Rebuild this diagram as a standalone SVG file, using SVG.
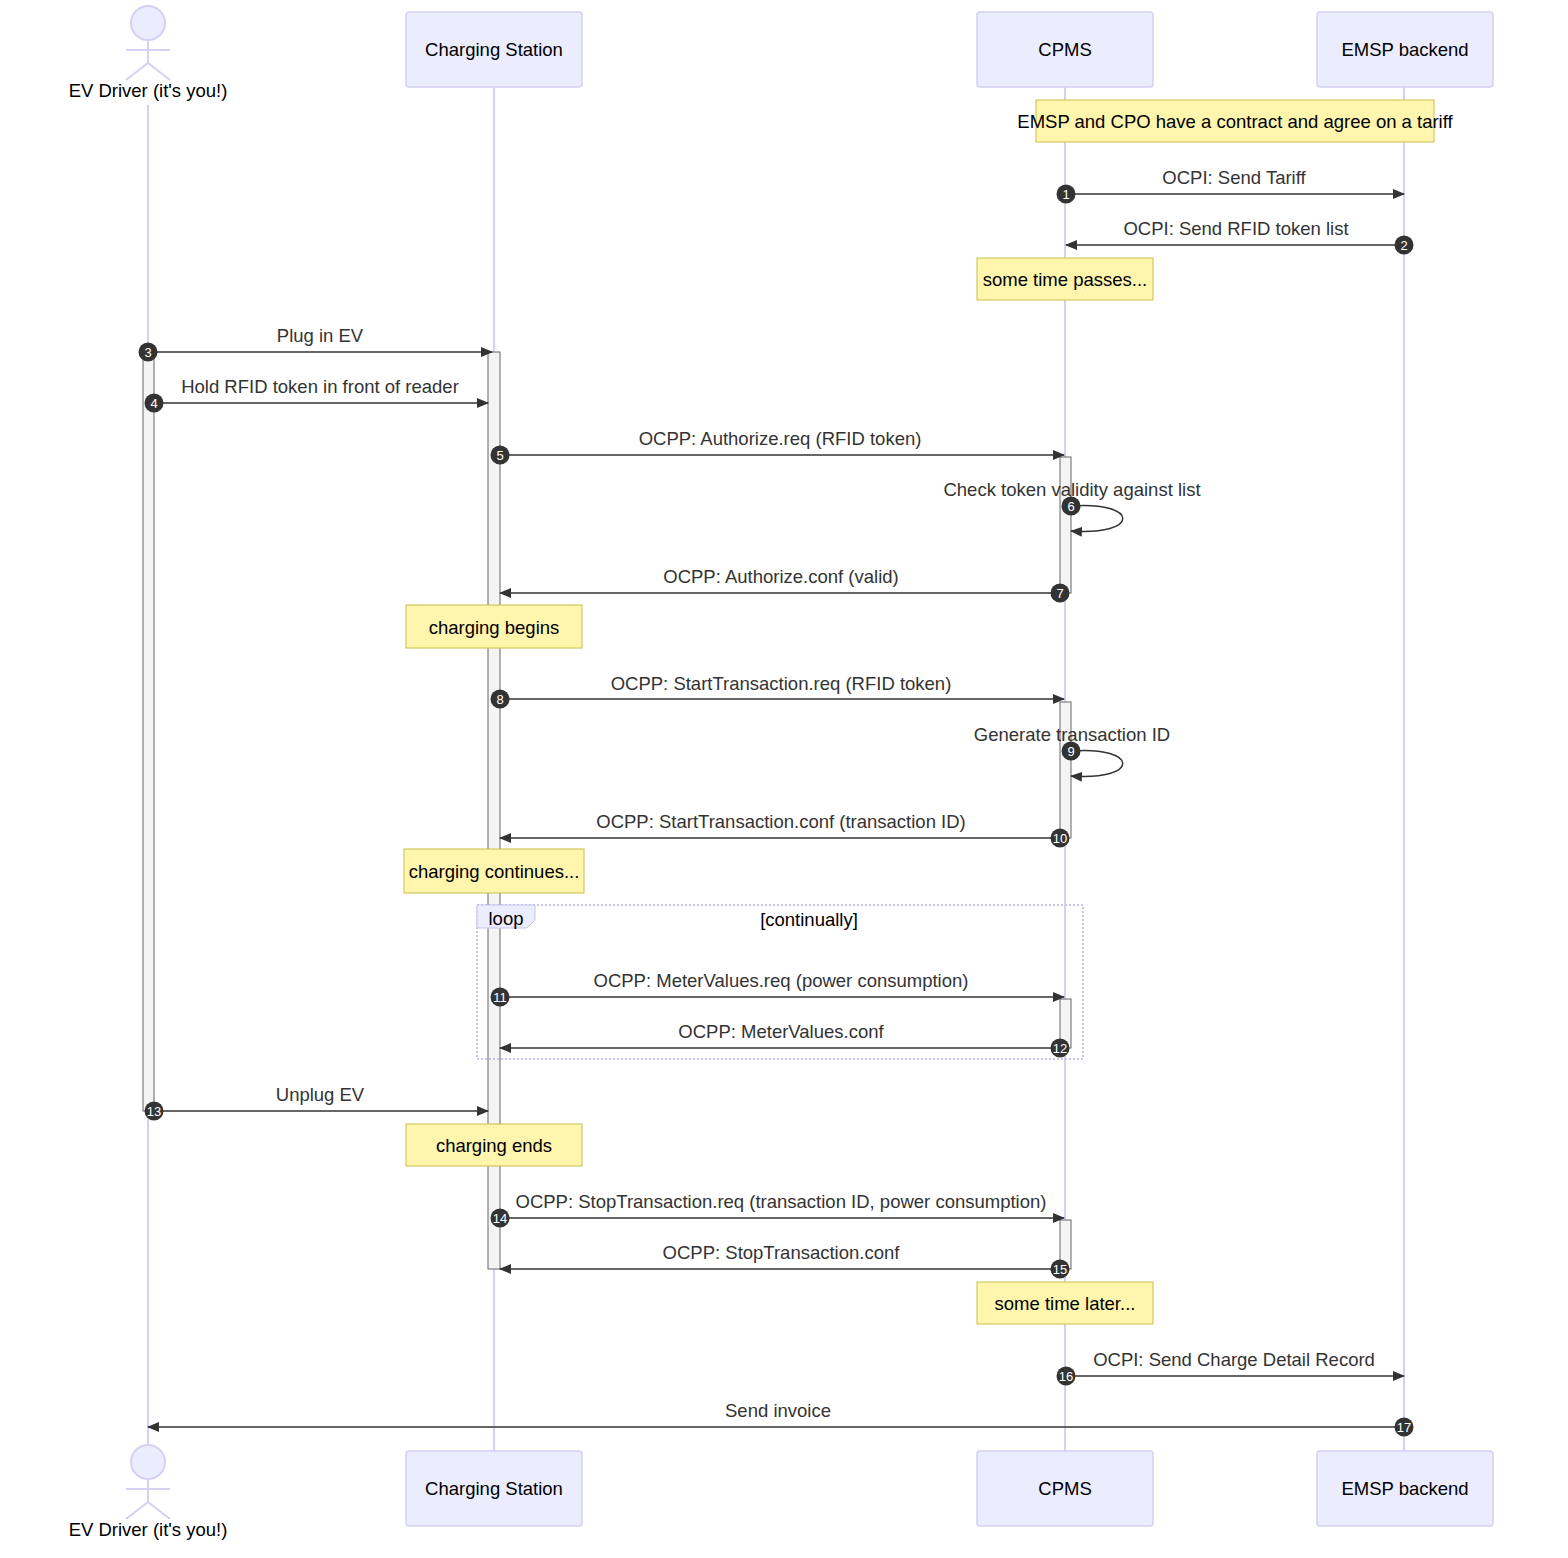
<svg xmlns="http://www.w3.org/2000/svg" width="1568" height="1558" viewBox="0 0 1568 1558">
<style>
text{font-family:"Liberation Sans",Arial,sans-serif;font-size:18.5px;fill:#333;text-anchor:middle}
.box{fill:#ECECFF;stroke:#d6d0f2;stroke-width:1.5}
.life{stroke:#d6d0f2;stroke-width:2}
.act{fill:#f4f4f4;stroke:#666;stroke-width:1}
.note{fill:#fff5ad;stroke:#c8bf4a;stroke-width:1}
.msg{stroke:#333;stroke-width:1.5;fill:none}
.num{fill:#333}
.nt{fill:#fff;font-size:13px}
.actor{fill:#ECECFF;stroke:#d6d0f2;stroke-width:2}
.limb{fill:none;stroke:#d6d0f2;stroke-width:2}
.pt{fill:#000}
</style>
<defs>
<marker id="ah" viewBox="0 0 12 10" refX="11" refY="5" markerWidth="12" markerHeight="10" markerUnits="userSpaceOnUse" orient="auto"><path d="M0,0 L12,5 L0,10 z" fill="#333"/></marker>
</defs>
<g id="lifelines">
<line class="life" x1="148" y1="105" x2="148" y2="1445"/>
<line class="life" x1="494" y1="87" x2="494" y2="1451"/>
<line class="life" x1="1065" y1="87" x2="1065" y2="1451"/>
<line class="life" x1="1404" y1="87" x2="1404" y2="1451"/>
</g>
<g id="driver">
<circle class="actor" cx="148" cy="23" r="17"/>
<line class="limb" x1="148" y1="40" x2="148" y2="63"/>
<line class="limb" x1="126" y1="50" x2="170" y2="50"/>
<path class="limb" d="M126,80 L148,63 L170,80"/>
<text class="pt" x="148" y="97">EV Driver (it's you!)</text>
<circle class="actor" cx="148" cy="1462" r="17"/>
<line class="limb" x1="148" y1="1479" x2="148" y2="1502"/>
<line class="limb" x1="126" y1="1489" x2="170" y2="1489"/>
<path class="limb" d="M126,1519 L148,1502 L170,1519"/>
<text class="pt" x="148" y="1536">EV Driver (it's you!)</text>
</g>
<g id="station">
<rect class="box" x="406" y="12" width="176" height="75" rx="3"/>
<text class="pt" x="494" y="56">Charging Station</text>
<rect class="box" x="406" y="1451" width="176" height="75" rx="3"/>
<text class="pt" x="494" y="1495">Charging Station</text>
</g>
<g id="cpms">
<rect class="box" x="977" y="12" width="176" height="75" rx="3"/>
<text class="pt" x="1065" y="56">CPMS</text>
<rect class="box" x="977" y="1451" width="176" height="75" rx="3"/>
<text class="pt" x="1065" y="1495">CPMS</text>
</g>
<g id="emsp">
<rect class="box" x="1317" y="12" width="176" height="75" rx="3"/>
<text class="pt" x="1405" y="56">EMSP backend</text>
<rect class="box" x="1317" y="1451" width="176" height="75" rx="3"/>
<text class="pt" x="1405" y="1495">EMSP backend</text>
</g>
<g id="activations">
<rect class="act" x="143" y="352" width="11" height="759"/>
<rect class="act" x="488" y="352" width="12" height="917"/>
<rect class="act" x="1060" y="457" width="11" height="136"/>
<rect class="act" x="1060" y="702" width="11" height="136"/>
<rect class="act" x="1060" y="999" width="11" height="49"/>
<rect class="act" x="1060" y="1220" width="11" height="49"/>
</g>
<g id="notes">
<rect class="note" x="1036" y="100" width="398" height="42"/>
<text class="pt" x="1235" y="128">EMSP and CPO have a contract and agree on a tariff</text>
<rect class="note" x="977" y="258" width="176" height="42"/>
<text class="pt" x="1065" y="286">some time passes...</text>
<rect class="note" x="406" y="605" width="176" height="43"/>
<text class="pt" x="494" y="634">charging begins</text>
<rect class="note" x="404" y="849" width="180" height="44"/>
<text class="pt" x="494" y="878">charging continues...</text>
<rect class="note" x="406" y="1124" width="176" height="42"/>
<text class="pt" x="494" y="1152">charging ends</text>
<rect class="note" x="977" y="1282" width="176" height="42"/>
<text class="pt" x="1065" y="1310">some time later...</text>
</g>
<g id="loop">
<rect x="477" y="905" width="606" height="154" fill="none" stroke="#c9c3ea" stroke-width="2" stroke-dasharray="2,2"/>
<path d="M477,905 L535,905 L535,920 L527,928 L477,928 z" fill="#ECECFF" stroke="#c9c3ea"/>
<text class="pt" x="506" y="925">loop</text>
<text class="pt" x="809" y="926">[continually]</text>
</g>
<g id="connectors">
<path class="msg" marker-end="url(#ah)" d="M1066,194 H1404"/>
<path class="msg" marker-end="url(#ah)" d="M1404,245 H1066"/>
<path class="msg" marker-end="url(#ah)" d="M148,352 H492"/>
<path class="msg" marker-end="url(#ah)" d="M154,403 H488"/>
<path class="msg" marker-end="url(#ah)" d="M500,455 H1064"/>
<path class="msg" marker-end="url(#ah)" d="M1071,506 C1140,501 1140,536 1071,531"/>
<path class="msg" marker-end="url(#ah)" d="M1060,593 H500"/>
<path class="msg" marker-end="url(#ah)" d="M500,699 H1064"/>
<path class="msg" marker-end="url(#ah)" d="M1071,751 C1140,746 1140,781 1071,776"/>
<path class="msg" marker-end="url(#ah)" d="M1060,838 H500"/>
<path class="msg" marker-end="url(#ah)" d="M500,997 H1064"/>
<path class="msg" marker-end="url(#ah)" d="M1060,1048 H500"/>
<path class="msg" marker-end="url(#ah)" d="M154,1111 H488"/>
<path class="msg" marker-end="url(#ah)" d="M500,1218 H1064"/>
<path class="msg" marker-end="url(#ah)" d="M1060,1269 H500"/>
<path class="msg" marker-end="url(#ah)" d="M1066,1376 H1404"/>
<path class="msg" marker-end="url(#ah)" d="M1404,1427 H148"/>
<text x="1234" y="184">OCPI: Send Tariff</text>
<text x="1236" y="235">OCPI: Send RFID token list</text>
<text x="320" y="342">Plug in EV</text>
<text x="320" y="393">Hold RFID token in front of reader</text>
<text x="780" y="445">OCPP: Authorize.req (RFID token)</text>
<text x="1072" y="496">Check token validity against list</text>
<text x="781" y="583">OCPP: Authorize.conf (valid)</text>
<text x="781" y="690">OCPP: StartTransaction.req (RFID token)</text>
<text x="1072" y="741">Generate transaction ID</text>
<text x="781" y="828">OCPP: StartTransaction.conf (transaction ID)</text>
<text x="781" y="987">OCPP: MeterValues.req (power consumption)</text>
<text x="781" y="1038">OCPP: MeterValues.conf</text>
<text x="320" y="1101">Unplug EV</text>
<text x="781" y="1208">OCPP: StopTransaction.req (transaction ID, power consumption)</text>
<text x="781" y="1259">OCPP: StopTransaction.conf</text>
<text x="1234" y="1366">OCPI: Send Charge Detail Record</text>
<text x="778" y="1417">Send invoice</text>
</g>
<g id="numbers">
<circle class="num" cx="1066" cy="194" r="9.5"/><text class="nt" x="1066" y="198.5">1</text>
<circle class="num" cx="1404" cy="245" r="9.5"/><text class="nt" x="1404" y="249.5">2</text>
<circle class="num" cx="148" cy="352" r="9.5"/><text class="nt" x="148" y="356.5">3</text>
<circle class="num" cx="154" cy="403" r="9.5"/><text class="nt" x="154" y="407.5">4</text>
<circle class="num" cx="500" cy="455" r="9.5"/><text class="nt" x="500" y="459.5">5</text>
<circle class="num" cx="1071" cy="506" r="9.5"/><text class="nt" x="1071" y="510.5">6</text>
<circle class="num" cx="1060" cy="593" r="9.5"/><text class="nt" x="1060" y="597.5">7</text>
<circle class="num" cx="500" cy="699" r="9.5"/><text class="nt" x="500" y="703.5">8</text>
<circle class="num" cx="1071" cy="751" r="9.5"/><text class="nt" x="1071" y="755.5">9</text>
<circle class="num" cx="1060" cy="838" r="9.5"/><text class="nt" x="1060" y="842.5">10</text>
<circle class="num" cx="500" cy="997" r="9.5"/><text class="nt" x="500" y="1001.5">11</text>
<circle class="num" cx="1060" cy="1048" r="9.5"/><text class="nt" x="1060" y="1052.5">12</text>
<circle class="num" cx="154" cy="1111" r="9.5"/><text class="nt" x="154" y="1115.5">13</text>
<circle class="num" cx="500" cy="1218" r="9.5"/><text class="nt" x="500" y="1222.5">14</text>
<circle class="num" cx="1060" cy="1269" r="9.5"/><text class="nt" x="1060" y="1273.5">15</text>
<circle class="num" cx="1066" cy="1376" r="9.5"/><text class="nt" x="1066" y="1380.5">16</text>
<circle class="num" cx="1404" cy="1427" r="9.5"/><text class="nt" x="1404" y="1431.5">17</text>
</g>
</svg>
